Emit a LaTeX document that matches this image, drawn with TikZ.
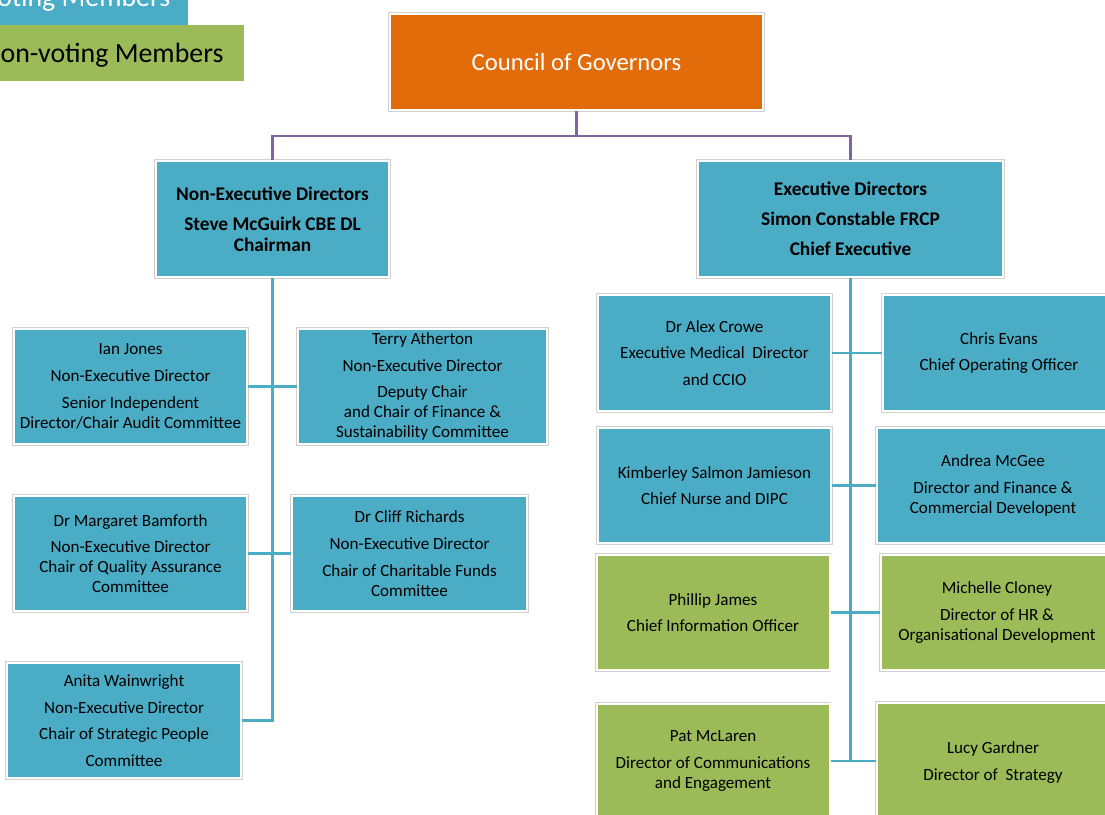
\documentclass[tikz,border=0pt]{standalone}
\usepackage{fontspec}
\setmainfont{Carlito}
\usepackage{tikz}
\usetikzlibrary{positioning}
\definecolor{aqua}{HTML}{4BACC6}
\definecolor{leaf}{HTML}{9BBB59}
\definecolor{ember}{HTML}{E36C0A}
\definecolor{plum}{HTML}{8064A2}

\begin{document}
\begin{tikzpicture}[x=0.75pt,y=-0.75pt,
  member/.style={rectangle,fill=#1,draw=white,line width=1.5pt,
    preaction={draw=black!18,line width=2.6pt},inner sep=0pt,align=center,
    minimum width=174.75pt,minimum height=86.25pt,
    font=\fontsize{12.8}{15}\selectfont},
  voting/.style={member=aqua},
  nonvoting/.style={member=leaf},
  board/.style={member=aqua,minimum height=87pt,font=\fontsize{14.5}{16}\selectfont\bfseries},
  legend/.style={rectangle,fill=#1,inner sep=0pt,minimum height=42pt,text depth=0pt,font=\fontsize{20.9}{24}\selectfont},
  boxsize/.style 2 args={minimum width=#1*0.75pt,minimum height=#2*0.75pt},
  govline/.style={draw=plum,line width=2.2pt},
  trunk/.style={draw=aqua,line width=2.2pt}]

  \useasboundingbox (0,0) rectangle (1105,814);
  \clip (0,0) rectangle (1105,814);

  \node[legend=aqua,text=white,minimum width=167.25pt] (legvote)    at (76.5,-3) {Voting Members};
  \node[legend=leaf,minimum width=211.5pt]             (legnonvote) at (103,53)  {Non-voting Members};

  \node[member=ember,boxsize={373}{96},text=white,font=\fontsize{18.5}{22}\selectfont] (council) at (576.5,62) {Council of Governors};

  \node[board]                  (ned) at (272.5,219) {Non-Executive Directors\\[6.5pt]Steve McGuirk CBE DL\\Chairman};
  \node[board,boxsize={305}{116}] (ed)  at (850.5,219) {Executive Directors\\[6.5pt]Simon Constable FRCP\\[6.5pt]Chief Executive};

  \node[voting]                   (ian)      at (130.5,386.5) {Ian Jones\\[5pt]Non-Executive Director\\[5pt]Senior Independent\\Director/Chair Audit Committee};
  \node[voting,boxsize={249}{115}] (terry)    at (422.5,386.5) {Terry Atherton\\[5pt]Non-Executive Director\\[5pt]Deputy Chair\\and Chair of Finance \&\\Sustainability Committee};
  \node[voting]                   (margaret) at (130.5,553.5) {Dr Margaret Bamforth\\[5pt]Non-Executive Director\\Chair of Quality Assurance\\Committee};
  \node[voting,boxsize={235}{115}] (cliff)    at (409.5,553.5) {Dr Cliff Richards\\[5pt]Non-Executive Director\\[5pt]Chair of Charitable Funds\\Committee};
  \node[voting,boxsize={234}{115}] (anita)    at (124,720.5)   {Anita Wainwright\\[5pt]Non-Executive Director\\[5pt]Chair of Strategic People\\[5pt]Committee};

  \node[voting,boxsize={233}{116}]    (alex)     at (714.5,353)   {Dr Alex Crowe\\[5pt]Executive Medical\ \ Director\\[5pt]and CCIO};
  \node[voting,boxsize={233}{116}]    (chris)    at (999,353)     {Chris Evans\\[5pt]Chief Operating Officer};
  \node[voting]                      (kim)      at (714.5,485.5) {Kimberley Salmon Jamieson\\[5pt]Chief Nurse and DIPC};
  \node[voting,boxsize={232}{115}]    (andrea)   at (993,485.5)   {Andrea McGee\\[5pt]Director and Finance \&\\Commercial Developent};
  \node[nonvoting]                   (phillip)  at (713,612.5)   {Phillip James\\[5pt]Chief Information Officer};
  \node[nonvoting,boxsize={232}{115}] (michelle) at (997,612.5)   {Michelle Cloney\\[5pt]Director of HR \&\\Organisational Development};
  \node[nonvoting]                   (pat)      at (713,761)     {Pat McLaren\\[5pt]Director of Communications\\and Engagement};
  \node[nonvoting,boxsize={232}{119}] (lucy)     at (993,762.5)   {Lucy Gardner\\[5pt]Director of\ \ Strategy};

  \path[govline] (council.south) -- ++(0,25) -| (ned.north)
                 (council.south) -- ++(0,25) -| (ed.north);

  \path[trunk] (ned.south) |- (anita.east)
               (ian.east) -- (terry.west)
               (margaret.east) -- (cliff.west);

  \path[trunk] (ed.south) -- (ed.south |- pat.east)
               (alex.east) -- (chris.west)
               (kim.east) -- (andrea.west)
               (phillip.east) -- (michelle.west)
               (pat.east) -- (pat.east -| lucy.west);
\end{tikzpicture}
\end{document}
